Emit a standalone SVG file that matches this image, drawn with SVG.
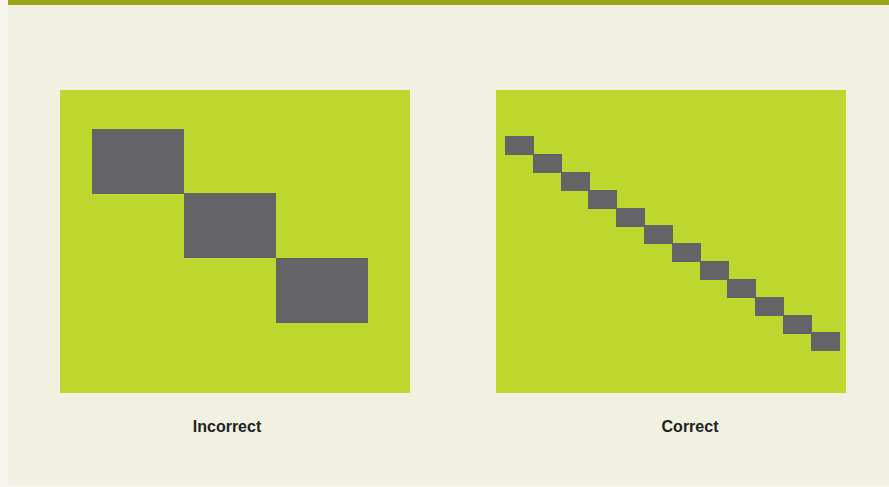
<svg xmlns="http://www.w3.org/2000/svg" width="889" height="487" viewBox="0 0 889 487">
<style>
.panel{fill:#bed72f}
.blk{fill:#646466}
.lbl{font-family:"Liberation Sans",Arial,sans-serif;font-weight:bold;font-size:16px;fill:#222222;text-anchor:middle}
</style>
<rect x="0" y="0" width="889" height="487" fill="#f6f6ee"/>
<rect x="8" y="0" width="881" height="485" fill="#f1f1e2"/>
<rect x="8" y="0" width="881" height="5" fill="#9ba517"/>
<g id="incorrect">
<rect class="panel" x="60" y="90" width="350" height="303"/>
<rect class="blk" x="92" y="129" width="92" height="65"/>
<rect class="blk" x="184" y="193" width="92" height="65"/>
<rect class="blk" x="276" y="258" width="92" height="65"/>
<text class="lbl" x="227" y="432">Incorrect</text>
</g>
<g id="correct">
<rect class="panel" x="496" y="90" width="350" height="303"/>
<rect class="blk" x="505" y="136" width="29" height="19"/>
<rect class="blk" x="533" y="154" width="29" height="19"/>
<rect class="blk" x="561" y="172" width="29" height="19"/>
<rect class="blk" x="588" y="190" width="29" height="19"/>
<rect class="blk" x="616" y="208" width="29" height="19"/>
<rect class="blk" x="644" y="225" width="29" height="19"/>
<rect class="blk" x="672" y="243" width="29" height="19"/>
<rect class="blk" x="700" y="261" width="29" height="19"/>
<rect class="blk" x="727" y="279" width="29" height="19"/>
<rect class="blk" x="755" y="297" width="29" height="19"/>
<rect class="blk" x="783" y="315" width="29" height="19"/>
<rect class="blk" x="811" y="332" width="29" height="19"/>
<text class="lbl" x="690" y="432">Correct</text>
</g>
<g id="connectors"/>
</svg>
